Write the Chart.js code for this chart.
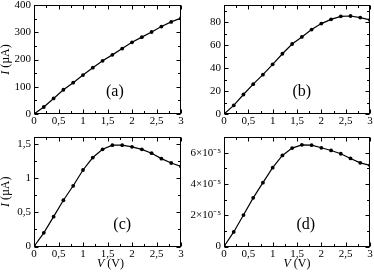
<!DOCTYPE html>
<html><head><meta charset="utf-8">
<script src="https://cdn.jsdelivr.net/npm/chart.js@4/dist/chart.umd.min.js"></script>
<style>
html,body{margin:0;padding:0;background:#fff;}
#wrap{position:relative;width:374px;height:273px;overflow:hidden;background:#fff;}
canvas{position:absolute;}
</style></head><body>
<div id="wrap">
<canvas id="ca" width="187" height="133" style="left:0px;top:0px;width:187px;height:133px"></canvas>
<canvas id="cb" width="187" height="133" style="left:187px;top:0px;width:187px;height:133px"></canvas>
<canvas id="cc" width="187" height="140" style="left:0px;top:133px;width:187px;height:140px"></canvas>
<canvas id="cd" width="187" height="140" style="left:187px;top:133px;width:187px;height:140px"></canvas>
</div>
<script>
// ---- data ----
const voltages = [0, 0.2, 0.4, 0.6, 0.8, 1.0, 1.2, 1.4, 1.6, 1.8, 2.0, 2.2, 2.4, 2.6, 2.8, 3.0];
const currentA = [0, 25.6, 57, 89, 115, 143, 170, 195, 217, 240, 263, 282, 301, 321, 338, 352];
const currentB = [0, 7.5, 17, 26, 34.3, 43.3, 52.5, 61, 67.2, 73.6, 78.8, 82.5, 85.1, 85.4, 84, 82];
const currentC = [0, 0.20, 0.436, 0.676, 0.887, 1.118, 1.30, 1.42, 1.48, 1.48, 1.456, 1.42, 1.363, 1.284, 1.22, 1.17];
const currentD = [0, 0.93e-5, 2.01e-5, 3.11e-5, 4.08e-5, 5.04e-5, 5.82e-5, 6.29e-5, 6.50e-5, 6.48e-5, 6.31e-5, 6.14e-5, 5.93e-5, 5.63e-5, 5.35e-5, 5.19e-5];
const xTicks = [0, 0.5, 1, 1.5, 2, 2.5, 3];
const yTicksA = [0, 100, 200, 300, 400];
const yTicksB = [0, 20, 40, 60, 80];
const yTicksC = [0, 0.5, 1, 1.5];
const yTicksD = [0, 2e-5, 4e-5, 6e-5];
const panelLetters = ['(a)', '(b)', '(c)', '(d)'];
const xTitle = ['V', ' (V)'];
const yTitle = ['I', ' (\u00b5A)'];

const FONT = '"Liberation Serif", "Times New Roman", serif';
const fmtComma = v => String(v).replace('.', ',');
const fmtSci = v => { const m = Math.round(v * 1e5); return m === 0 ? '0' : m + '\u00d710\u207b\u2075'; };

function minorOf(ticks, max) {
  const out = [];
  for (let i = 0; i < ticks.length - 1; i++) out.push((ticks[i] + ticks[i + 1]) / 2);
  const st = ticks[1] - ticks[0];
  const extra = ticks[ticks.length - 1] + st / 2;
  if (extra < max - 1e-12) out.push(extra);
  return out;
}

const framePlugin = {
  id: 'frame',
  afterDatasetsDraw(chart) {
    const o = chart.options.plugins.frame;
    const { ctx, chartArea: ca, scales: { x, y } } = chart;
    const L = Math.round(ca.left) + 0.5, R = Math.round(ca.right) - 0.5;
    const T = Math.round(ca.top) + 0.5, B = Math.round(ca.bottom) - 0.5;
    ctx.save();
    ctx.strokeStyle = '#000';
    ctx.lineWidth = 1;
    ctx.beginPath();
    const xm = minorOf(xTicks, 3);
    const tick = (vals, len, isX) => {
      vals.forEach(v => {
        if (isX) {
          const p = Math.round(x.getPixelForValue(v)) + 0.5;
          ctx.moveTo(p, B); ctx.lineTo(p, B - len);
          ctx.moveTo(p, T); ctx.lineTo(p, T + len);
        } else {
          const p = Math.round(y.getPixelForValue(v)) + 0.5;
          ctx.moveTo(L, p); ctx.lineTo(L + len, p);
          ctx.moveTo(R, p); ctx.lineTo(R - len, p);
        }
      });
    };
    tick(xTicks, 4, true);
    tick(xm, 2.5, true);
    tick(o.yTicks, 4, false);
    tick(minorOf(o.yTicks, o.yMax), 2.5, false);
    ctx.stroke();
    ctx.strokeRect(L, T, R - L, B - T);
    ctx.restore();
  },
  afterDraw(chart) {
    const o = chart.options.plugins.frame;
    const { ctx, chartArea: ca, scales: { x } } = chart;
    ctx.save();
    ctx.fillStyle = '#000';
    ctx.font = '16px ' + FONT;
    ctx.textAlign = 'center';
    ctx.textBaseline = 'middle';
    ctx.fillText(o.letter, x.getPixelForValue(o.letterX), ca.bottom - 22);
    if (o.showYTitle) {
      ctx.save();
      ctx.translate(6, (ca.top + ca.bottom) / 2);
      ctx.rotate(-Math.PI / 2);
      ctx.font = 'italic 12px ' + FONT;
      const w1 = ctx.measureText(yTitle[0]).width;
      ctx.font = '12px ' + FONT;
      const w2 = ctx.measureText(yTitle[1]).width;
      ctx.textAlign = 'left';
      ctx.font = 'italic 12px ' + FONT;
      ctx.fillText(yTitle[0], -(w1 + w2) / 2, 0);
      ctx.font = '12px ' + FONT;
      ctx.fillText(yTitle[1], -(w1 + w2) / 2 + w1, 0);
      ctx.restore();
    }
    if (o.showXTitle) {
      ctx.font = 'italic 12px ' + FONT;
      const w1 = ctx.measureText(xTitle[0]).width;
      ctx.font = '12px ' + FONT;
      const w2 = ctx.measureText(xTitle[1]).width;
      const cx = (ca.left + ca.right) / 2 + o.xTitleShift;
      ctx.textAlign = 'left';
      ctx.font = 'italic 12px ' + FONT;
      ctx.fillText(xTitle[0], cx - (w1 + w2) / 2, 130.5);
      ctx.font = '12px ' + FONT;
      ctx.fillText(xTitle[1], cx - (w1 + w2) / 2 + w1, 130.5);
    }
    ctx.restore();
  }
};

function makeChart(id, values, yTicks, yMax, fmtY, cfg) {
  const pts = voltages.map((v, i) => ({ x: v, y: values[i] }));
  return new Chart(document.getElementById(id), {
    type: 'line',
    data: { datasets: [{ data: pts, borderColor: '#000', backgroundColor: '#000', borderWidth: 1.2,
      pointRadius: 1.9, pointBorderWidth: 0, pointBackgroundColor: '#000', tension: 0, fill: false }] },
    options: {
      responsive: false, animation: false, devicePixelRatio: 1,
      layout: { padding: { top: cfg.top, right: cfg.right, left: 0, bottom: 0 } },
      plugins: {
        legend: { display: false }, tooltip: { enabled: false },
        frame: { yTicks, yMax, letter: cfg.letter, letterX: cfg.letterX, showYTitle: cfg.yTitle,
          showXTitle: cfg.xTitle, xTitleShift: cfg.xTitleShift || 0 }
      },
      scales: {
        x: {
          type: 'linear', min: 0, max: 3,
          grid: { display: false, drawTicks: false, tickLength: 0 }, border: { display: false },
          afterBuildTicks: s => { s.ticks = xTicks.map(v => ({ value: v })); },
          afterFit: s => { s.height = cfg.xh; s.paddingLeft = 0; s.paddingRight = 0; },
          ticks: { padding: 1, color: '#000', font: { family: FONT, size: 11 }, maxRotation: 0, autoSkip: false,
            callback: v => fmtComma(v) }
        },
        y: {
          type: 'linear', min: 0, max: yMax,
          grid: { display: false, drawTicks: false, tickLength: 0 }, border: { display: false },
          afterBuildTicks: s => { s.ticks = yTicks.map(v => ({ value: v })); },
          afterFit: s => { s.width = cfg.yw; s.paddingTop = 0; s.paddingBottom = 0; },
          ticks: { padding: 3, color: '#000', font: { family: FONT, size: 11 }, autoSkip: false,
            callback: v => fmtY(v) }
        }
      }
    },
    plugins: [framePlugin]
  });
}

makeChart('ca', currentA, yTicksA, 400, fmtComma, { top: 5, right: 6, xh: 19, yw: 34, letter: panelLetters[0], letterX: 1.65, yTitle: true, xTitle: false });
makeChart('cb', currentB, yTicksB, 95, fmtComma, { top: 5, right: 3.5, xh: 19, yw: 37, letter: panelLetters[1], letterX: 1.6, yTitle: false, xTitle: false });
makeChart('cc', currentC, yTicksC, 1.6, fmtComma, { top: 4, right: 6, xh: 26.5, yw: 34, letter: panelLetters[2], letterX: 1.8, yTitle: true, xTitle: true, xTitleShift: 3 });
makeChart('cd', currentD, yTicksD, 7e-5, fmtSci, { top: 4, right: 3.5, xh: 26.5, yw: 37, letter: panelLetters[3], letterX: 1.68, yTitle: false, xTitle: true });
</script>
</body></html>
